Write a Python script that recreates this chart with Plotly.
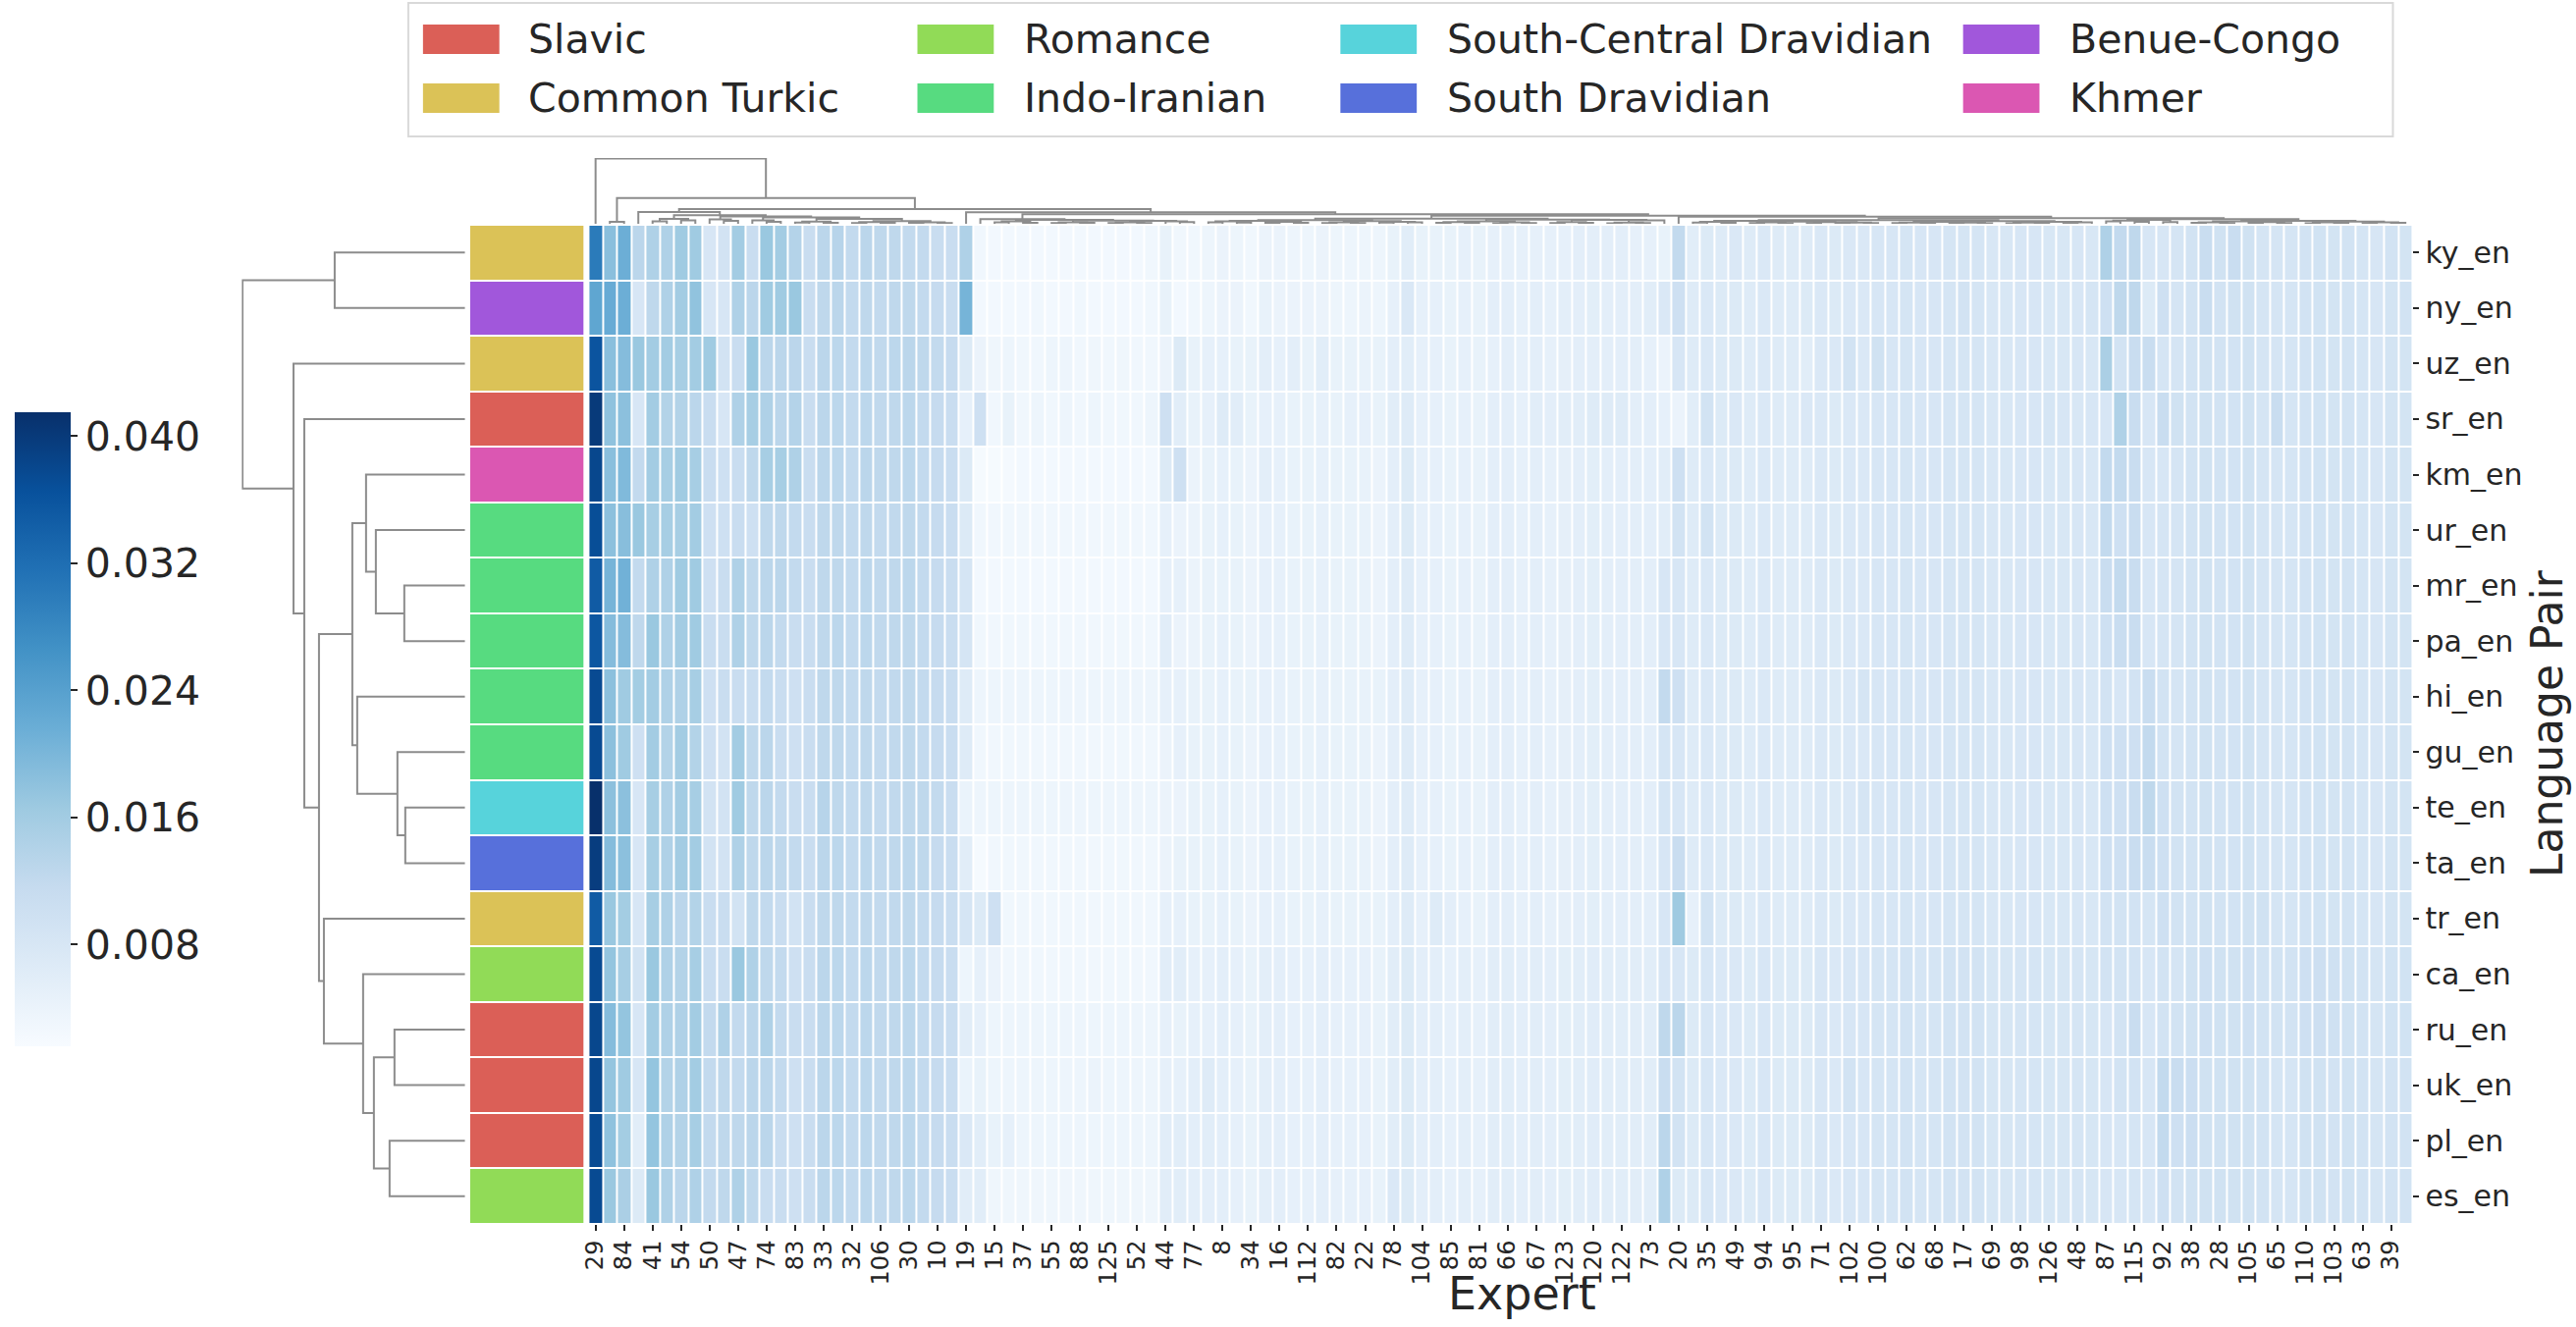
import plotly.graph_objects as go

# rows of the clustermap, top to bottom
row_labels = ["ky_en", "ny_en", "uz_en", "sr_en", "km_en", "ur_en", "mr_en", "pa_en", "hi_en",
              "gu_en", "te_en", "ta_en", "tr_en", "ca_en", "ru_en", "uk_en", "pl_en", "es_en"]
row_family = ["Common Turkic", "Benue-Congo", "Common Turkic", "Slavic", "Khmer", "Indo-Iranian",
              "Indo-Iranian", "Indo-Iranian", "Indo-Iranian", "Indo-Iranian", "South-Central Dravidian",
              "South Dravidian", "Common Turkic", "Romance", "Slavic", "Slavic", "Slavic", "Romance"]

families = ["Slavic", "Common Turkic", "Romance", "Indo-Iranian",
            "South-Central Dravidian", "South Dravidian", "Benue-Congo", "Khmer"]
family_colors = ["#db5f57", "#dbc257", "#91db57", "#57db80", "#57d3db", "#5770db", "#a157db", "#db57b2"]

# expert ids printed under every second column (128 columns in total)
expert_ticks = [29, 84, 41, 54, 50, 47, 74, 83, 33, 32, 106, 30, 10, 19, 15, 37, 55, 88, 125, 52, 44, 77,
                8, 34, 16, 112, 82, 22, 78, 104, 85, 81, 66, 67, 123, 120, 122, 73, 20, 35, 49, 94, 95,
                71, 102, 100, 62, 68, 17, 69, 98, 126, 48, 87, 115, 92, 38, 28, 105, 65, 110, 103, 63, 39]

# expert usage per language pair (columns in clustered order)
ky_en = [0.030, 0.0185, 0.0215, 0.013, 0.0145, 0.0145, 0.0163, 0.0163, 0.008, 0.009, 0.016, 0.011, 0.017, 0.016, 0.0138,
         0.011, 0.013, 0.0135, 0.012, 0.013, 0.0125, 0.0125, 0.012, 0.012, 0.011, 0.011, 0.0145,
         0.003, 0.0025, 0.0025, 0.0025, 0.0025, 0.0025, 0.0025, 0.0025, 0.0025, 0.0025, 0.0025, 0.0025, 0.003, 0.0045, 0.003, 0.003,
         0.0035, 0.004, 0.0035, 0.003, 0.004, 0.004, 0.0035, 0.0035, 0.004, 0.0035, 0.0035, 0.0035, 0.0035, 0.0045, 0.006, 0.0045,
         0.0045, 0.0045, 0.005, 0.0045, 0.005, 0.005, 0.005, 0.005, 0.005, 0.005, 0.0055, 0.0055, 0.0055, 0.0055, 0.005, 0.005,
         0.0045, 0.012, 0.006, 0.007, 0.0065, 0.0075, 0.0065, 0.0075, 0.0065, 0.0065, 0.0065, 0.0075, 0.007, 0.0075, 0.0075, 0.008,
         0.008, 0.0085, 0.008, 0.008, 0.0085, 0.0085, 0.0085, 0.0078, 0.0078, 0.008, 0.008, 0.0078, 0.0078, 0.008, 0.0078, 0.0145,
         0.012, 0.0125, 0.008, 0.008, 0.0085, 0.009, 0.011, 0.0095, 0.011, 0.0095, 0.0085, 0.0085, 0.0085, 0.009, 0.0092, 0.0088, 0.009, 0.0085, 0.008, 0.009, 0.0088]
ny_en = [0.023, 0.022, 0.0215, 0.008, 0.0125, 0.0145, 0.016, 0.0178, 0.008, 0.008, 0.0145, 0.013, 0.0163, 0.0163, 0.017,
         0.011, 0.0125, 0.013, 0.012, 0.0125, 0.012, 0.0125, 0.0125, 0.012, 0.0115, 0.011, 0.0205,
         0.0025, 0.0025, 0.0025, 0.0025, 0.003, 0.0025, 0.0025, 0.003, 0.0025, 0.0025, 0.0025, 0.0025, 0.003, 0.0045, 0.0025, 0.003,
         0.0035, 0.004, 0.004, 0.003, 0.0045, 0.004, 0.004, 0.004, 0.004, 0.0035, 0.0035, 0.004, 0.0035, 0.005, 0.0075, 0.005,
         0.005, 0.0045, 0.005, 0.0045, 0.0055, 0.0055, 0.005, 0.0055, 0.005, 0.0055, 0.0055, 0.0058, 0.0055, 0.0055, 0.0055, 0.006,
         0.0075, 0.010, 0.0065, 0.0075, 0.007, 0.007, 0.0065, 0.0075, 0.0065, 0.0065, 0.007, 0.0075, 0.007, 0.0075, 0.0075, 0.008,
         0.008, 0.0085, 0.008, 0.008, 0.0085, 0.009, 0.0085, 0.0078, 0.0078, 0.008, 0.008, 0.0078, 0.0078, 0.008, 0.0085, 0.010,
         0.0125, 0.0125, 0.007, 0.010, 0.0085, 0.009, 0.011, 0.009, 0.0095, 0.0095, 0.0085, 0.0085, 0.0085, 0.009, 0.0092, 0.0088, 0.009, 0.0085, 0.008, 0.0088, 0.009]
uz_en = [0.036, 0.0185, 0.019, 0.017, 0.016, 0.016, 0.0155, 0.016, 0.0163, 0.009, 0.011, 0.017, 0.013, 0.013, 0.013,
         0.011, 0.013, 0.0128, 0.012, 0.0128, 0.0122, 0.0128, 0.013, 0.0125, 0.012, 0.0115, 0.007,
         0.004, 0.0032, 0.0035, 0.003, 0.003, 0.0035, 0.0035, 0.003, 0.0032, 0.003, 0.0032, 0.003, 0.003, 0.004, 0.007, 0.0045,
         0.005, 0.005, 0.0045, 0.0045, 0.0055, 0.005, 0.0055, 0.0045, 0.006, 0.0045, 0.0045, 0.0045, 0.0045, 0.0055, 0.006, 0.005,
         0.005, 0.0045, 0.005, 0.0045, 0.005, 0.0055, 0.005, 0.0055, 0.005, 0.0052, 0.0055, 0.0055, 0.0055, 0.0055, 0.0055, 0.005,
         0.004, 0.008, 0.0065, 0.0075, 0.007, 0.007, 0.0065, 0.0075, 0.0065, 0.0065, 0.006, 0.0075, 0.0075, 0.009, 0.0075, 0.0095,
         0.008, 0.0085, 0.008, 0.008, 0.0085, 0.0085, 0.0085, 0.0078, 0.0078, 0.008, 0.008, 0.0078, 0.0078, 0.008, 0.0078, 0.015,
         0.009, 0.011, 0.011, 0.0085, 0.0085, 0.009, 0.0095, 0.009, 0.009, 0.0095, 0.0085, 0.0085, 0.0085, 0.009, 0.0092, 0.0088, 0.009, 0.0085, 0.008, 0.0088, 0.0088]
sr_en = [0.040, 0.018, 0.0183, 0.008, 0.016, 0.014, 0.014, 0.013, 0.011, 0.008, 0.0145, 0.0155, 0.0145, 0.013, 0.0138,
         0.011, 0.013, 0.0128, 0.012, 0.0128, 0.0122, 0.0125, 0.0128, 0.012, 0.0115, 0.011, 0.005,
         0.010, 0.003, 0.0045, 0.003, 0.0035, 0.003, 0.0035, 0.003, 0.0035, 0.003, 0.003, 0.003, 0.0035, 0.010, 0.006, 0.0045,
         0.005, 0.0065, 0.006, 0.0045, 0.005, 0.005, 0.0045, 0.0045, 0.005, 0.0045, 0.005, 0.005, 0.0045, 0.006, 0.0065, 0.005,
         0.005, 0.0045, 0.005, 0.0045, 0.0055, 0.0055, 0.005, 0.006, 0.0055, 0.006, 0.006, 0.0065, 0.0065, 0.0065, 0.0055, 0.0055,
         0.005, 0.004, 0.006, 0.009, 0.007, 0.0075, 0.0065, 0.0075, 0.0065, 0.0065, 0.0075, 0.0075, 0.007, 0.0075, 0.0075, 0.008,
         0.008, 0.0085, 0.008, 0.008, 0.0085, 0.0085, 0.0085, 0.0078, 0.0078, 0.008, 0.008, 0.0085, 0.008, 0.0078, 0.008, 0.008,
         0.0145, 0.011, 0.008, 0.011, 0.0095, 0.009, 0.0095, 0.009, 0.009, 0.0095, 0.0085, 0.011, 0.0085, 0.009, 0.0092, 0.0088, 0.009, 0.0085, 0.008, 0.0088, 0.0088]
km_en = [0.038, 0.0185, 0.0195, 0.012, 0.016, 0.0155, 0.0163, 0.0155, 0.011, 0.010, 0.011, 0.0125, 0.0155, 0.0155, 0.0145,
         0.011, 0.013, 0.0128, 0.012, 0.013, 0.0125, 0.0125, 0.0128, 0.012, 0.0115, 0.011, 0.007,
         0.002, 0.002, 0.0022, 0.0025, 0.0025, 0.0025, 0.0025, 0.0025, 0.0025, 0.0025, 0.0025, 0.0025, 0.0025, 0.007, 0.010, 0.004,
         0.0045, 0.005, 0.0045, 0.004, 0.0055, 0.005, 0.0045, 0.0045, 0.005, 0.0045, 0.0045, 0.0045, 0.004, 0.0055, 0.007, 0.005,
         0.005, 0.0045, 0.005, 0.0045, 0.0055, 0.0055, 0.005, 0.0055, 0.005, 0.0052, 0.0055, 0.0058, 0.0055, 0.0055, 0.0055, 0.0055,
         0.006, 0.010, 0.0065, 0.0075, 0.007, 0.007, 0.0065, 0.0075, 0.0065, 0.0065, 0.0065, 0.0075, 0.007, 0.0075, 0.0075, 0.008,
         0.008, 0.0085, 0.008, 0.008, 0.0085, 0.0085, 0.0085, 0.0078, 0.0078, 0.008, 0.008, 0.0078, 0.0078, 0.008, 0.0078, 0.012,
         0.012, 0.011, 0.008, 0.008, 0.0085, 0.009, 0.0095, 0.009, 0.009, 0.0095, 0.0085, 0.0085, 0.0085, 0.009, 0.0092, 0.0088, 0.009, 0.0085, 0.008, 0.0088, 0.0088]
ur_en = [0.037, 0.0183, 0.0187, 0.017, 0.0155, 0.0155, 0.0155, 0.016, 0.010, 0.010, 0.011, 0.010, 0.0125, 0.0125, 0.012,
         0.011, 0.0125, 0.0125, 0.012, 0.0125, 0.012, 0.0122, 0.0125, 0.012, 0.0115, 0.011, 0.007,
         0.003, 0.003, 0.003, 0.003, 0.003, 0.003, 0.003, 0.003, 0.003, 0.003, 0.003, 0.003, 0.003, 0.005, 0.004, 0.004,
         0.0045, 0.005, 0.0045, 0.004, 0.005, 0.005, 0.0045, 0.0045, 0.005, 0.0045, 0.0045, 0.0045, 0.004, 0.0055, 0.007, 0.005,
         0.005, 0.0045, 0.005, 0.0045, 0.0055, 0.0055, 0.005, 0.0055, 0.005, 0.0052, 0.0055, 0.0058, 0.0055, 0.0055, 0.0055, 0.0055,
         0.006, 0.009, 0.0065, 0.009, 0.007, 0.007, 0.0065, 0.0075, 0.0065, 0.0065, 0.0065, 0.0075, 0.007, 0.0075, 0.0075, 0.008,
         0.008, 0.0085, 0.008, 0.008, 0.0085, 0.0085, 0.0085, 0.0078, 0.0078, 0.008, 0.008, 0.0078, 0.0078, 0.008, 0.0078, 0.012,
         0.010, 0.011, 0.008, 0.0085, 0.0085, 0.009, 0.0095, 0.009, 0.009, 0.0095, 0.0085, 0.0085, 0.0085, 0.009, 0.0092, 0.0088, 0.009, 0.0085, 0.008, 0.0088, 0.0088]
mr_en = [0.035, 0.0205, 0.021, 0.012, 0.0145, 0.0145, 0.0163, 0.0163, 0.010, 0.011, 0.0145, 0.0125, 0.013, 0.013, 0.012,
         0.011, 0.0125, 0.0125, 0.012, 0.0128, 0.0122, 0.0125, 0.0128, 0.012, 0.0115, 0.011, 0.0085,
         0.0025, 0.0025, 0.0025, 0.0025, 0.0025, 0.0025, 0.0025, 0.0025, 0.0025, 0.0025, 0.0025, 0.0025, 0.0025, 0.005, 0.005, 0.004,
         0.0045, 0.0045, 0.0045, 0.004, 0.005, 0.005, 0.0045, 0.0045, 0.005, 0.0045, 0.0045, 0.0045, 0.004, 0.0055, 0.0065, 0.005,
         0.005, 0.0045, 0.005, 0.0045, 0.0055, 0.0055, 0.005, 0.0055, 0.005, 0.0052, 0.0055, 0.0058, 0.0055, 0.0055, 0.0055, 0.0055,
         0.008, 0.008, 0.0065, 0.0075, 0.007, 0.007, 0.0065, 0.0075, 0.0065, 0.0065, 0.0065, 0.0075, 0.007, 0.0075, 0.0075, 0.008,
         0.008, 0.0085, 0.008, 0.008, 0.0085, 0.0085, 0.0085, 0.0078, 0.0078, 0.008, 0.008, 0.0078, 0.0078, 0.008, 0.0078, 0.011,
         0.012, 0.011, 0.008, 0.0085, 0.0085, 0.009, 0.0095, 0.009, 0.009, 0.0095, 0.0085, 0.0085, 0.0085, 0.009, 0.0092, 0.0088, 0.009, 0.0085, 0.008, 0.0088, 0.0088]
pa_en = [0.0355, 0.019, 0.019, 0.0125, 0.017, 0.0145, 0.016, 0.0163, 0.011, 0.011, 0.0145, 0.0125, 0.013, 0.012, 0.011,
         0.011, 0.0125, 0.0128, 0.012, 0.0128, 0.0122, 0.0125, 0.0125, 0.012, 0.0115, 0.011, 0.0085,
         0.003, 0.003, 0.003, 0.003, 0.003, 0.003, 0.003, 0.003, 0.003, 0.003, 0.003, 0.003, 0.003, 0.006, 0.004, 0.004,
         0.0045, 0.005, 0.0045, 0.004, 0.005, 0.005, 0.0045, 0.0045, 0.005, 0.0045, 0.0045, 0.0045, 0.004, 0.0055, 0.0065, 0.005,
         0.005, 0.0045, 0.005, 0.0045, 0.0055, 0.0055, 0.005, 0.0055, 0.005, 0.0052, 0.0055, 0.0058, 0.0055, 0.0055, 0.0055, 0.0055,
         0.008, 0.008, 0.0065, 0.0075, 0.007, 0.007, 0.0065, 0.0075, 0.0065, 0.0065, 0.0065, 0.0075, 0.007, 0.0075, 0.0075, 0.008,
         0.008, 0.0085, 0.008, 0.008, 0.0085, 0.0085, 0.0085, 0.0078, 0.0078, 0.008, 0.008, 0.0078, 0.0078, 0.008, 0.0078, 0.010,
         0.011, 0.011, 0.008, 0.0085, 0.0085, 0.009, 0.0095, 0.009, 0.009, 0.0095, 0.0085, 0.0085, 0.0085, 0.009, 0.0092, 0.0088, 0.009, 0.0085, 0.008, 0.0088, 0.0088]
hi_en = [0.0375, 0.0183, 0.0163, 0.0158, 0.016, 0.0145, 0.0145, 0.0155, 0.010, 0.011, 0.011, 0.011, 0.012, 0.011, 0.010,
         0.011, 0.0125, 0.0125, 0.012, 0.0125, 0.012, 0.0122, 0.0125, 0.012, 0.0115, 0.011, 0.0065,
         0.0035, 0.0035, 0.0035, 0.0035, 0.0035, 0.0035, 0.0035, 0.0035, 0.0035, 0.0035, 0.0035, 0.0035, 0.0035, 0.005, 0.005, 0.0045,
         0.0045, 0.005, 0.0045, 0.0045, 0.005, 0.005, 0.0045, 0.0045, 0.005, 0.0045, 0.0045, 0.0045, 0.0045, 0.0055, 0.0065, 0.005,
         0.005, 0.0045, 0.005, 0.0045, 0.0055, 0.0055, 0.005, 0.0055, 0.005, 0.0052, 0.0055, 0.0058, 0.0055, 0.0055, 0.0055, 0.0055,
         0.012, 0.010, 0.0065, 0.0075, 0.007, 0.007, 0.0065, 0.0075, 0.0065, 0.0065, 0.0065, 0.0075, 0.007, 0.0075, 0.0085, 0.008,
         0.008, 0.0085, 0.008, 0.008, 0.0085, 0.0085, 0.0085, 0.0078, 0.0078, 0.008, 0.008, 0.0078, 0.0078, 0.008, 0.0078, 0.009,
         0.008, 0.009, 0.011, 0.009, 0.0085, 0.009, 0.0095, 0.009, 0.009, 0.0095, 0.0085, 0.0085, 0.0085, 0.009, 0.0092, 0.0088, 0.009, 0.0085, 0.008, 0.0088, 0.0088]
gu_en = [0.0375, 0.0183, 0.0163, 0.010, 0.016, 0.014, 0.016, 0.014, 0.010, 0.009, 0.016, 0.0125, 0.013, 0.011, 0.010,
         0.011, 0.0125, 0.0125, 0.012, 0.0125, 0.012, 0.0122, 0.0125, 0.012, 0.0115, 0.011, 0.0065,
         0.003, 0.003, 0.003, 0.003, 0.003, 0.003, 0.003, 0.003, 0.003, 0.003, 0.003, 0.003, 0.003, 0.004, 0.005, 0.0045,
         0.0045, 0.005, 0.0045, 0.004, 0.005, 0.005, 0.0045, 0.0045, 0.005, 0.0045, 0.0045, 0.0045, 0.004, 0.0055, 0.0065, 0.005,
         0.005, 0.0045, 0.005, 0.0045, 0.0055, 0.0055, 0.005, 0.0055, 0.005, 0.0052, 0.0055, 0.0058, 0.0055, 0.0055, 0.0055, 0.0055,
         0.0085, 0.008, 0.0065, 0.0075, 0.007, 0.007, 0.0065, 0.0075, 0.0065, 0.0065, 0.0065, 0.0075, 0.007, 0.0075, 0.0075, 0.008,
         0.008, 0.0085, 0.008, 0.008, 0.0085, 0.0085, 0.0085, 0.0078, 0.0078, 0.008, 0.008, 0.0078, 0.0078, 0.008, 0.0078, 0.010,
         0.010, 0.010, 0.012, 0.009, 0.0085, 0.009, 0.0095, 0.009, 0.009, 0.0095, 0.0085, 0.0085, 0.0085, 0.009, 0.0092, 0.0088, 0.009, 0.0085, 0.008, 0.0088, 0.0088]
te_en = [0.0415, 0.0183, 0.0183, 0.008, 0.0155, 0.0145, 0.016, 0.0155, 0.009, 0.009, 0.0163, 0.0125, 0.013, 0.012, 0.011,
         0.011, 0.0135, 0.0125, 0.012, 0.0125, 0.012, 0.0122, 0.0125, 0.0125, 0.012, 0.011, 0.0042,
         0.0035, 0.0035, 0.0035, 0.0035, 0.0035, 0.0035, 0.0035, 0.0035, 0.0035, 0.0035, 0.0035, 0.0035, 0.0035, 0.004, 0.004, 0.0045,
         0.0045, 0.005, 0.0045, 0.004, 0.005, 0.005, 0.0045, 0.0045, 0.005, 0.0045, 0.0045, 0.0045, 0.004, 0.0055, 0.0065, 0.005,
         0.005, 0.0045, 0.005, 0.0045, 0.0055, 0.0055, 0.005, 0.0055, 0.005, 0.0052, 0.0055, 0.0058, 0.0055, 0.0055, 0.0055, 0.0055,
         0.0085, 0.008, 0.0065, 0.0075, 0.007, 0.007, 0.0065, 0.0075, 0.0065, 0.0065, 0.0065, 0.0075, 0.007, 0.0075, 0.0085, 0.008,
         0.008, 0.0085, 0.008, 0.008, 0.0085, 0.0085, 0.0085, 0.0078, 0.0078, 0.008, 0.008, 0.0078, 0.0078, 0.008, 0.0078, 0.010,
         0.010, 0.011, 0.0125, 0.010, 0.009, 0.009, 0.0095, 0.009, 0.009, 0.0095, 0.0085, 0.0085, 0.0085, 0.009, 0.0092, 0.0088, 0.009, 0.0085, 0.008, 0.0088, 0.0088]
ta_en = [0.0395, 0.019, 0.0183, 0.008, 0.0155, 0.0145, 0.016, 0.016, 0.009, 0.009, 0.0145, 0.0125, 0.013, 0.0125, 0.012,
         0.011, 0.013, 0.0128, 0.012, 0.0128, 0.0122, 0.0125, 0.0128, 0.0125, 0.0115, 0.011, 0.006,
         0.002, 0.003, 0.003, 0.003, 0.003, 0.003, 0.003, 0.003, 0.003, 0.003, 0.003, 0.003, 0.003, 0.004, 0.0045, 0.0045,
         0.0045, 0.005, 0.0045, 0.004, 0.005, 0.005, 0.0045, 0.0045, 0.005, 0.0045, 0.0045, 0.0045, 0.004, 0.0055, 0.0065, 0.005,
         0.005, 0.0045, 0.005, 0.0045, 0.0055, 0.0055, 0.005, 0.0055, 0.005, 0.0052, 0.0055, 0.0058, 0.0055, 0.0055, 0.0055, 0.0055,
         0.008, 0.011, 0.0065, 0.0075, 0.007, 0.007, 0.0065, 0.0075, 0.0065, 0.0065, 0.0065, 0.0075, 0.007, 0.0075, 0.0075, 0.008,
         0.008, 0.0085, 0.008, 0.008, 0.0085, 0.0085, 0.0085, 0.0078, 0.0078, 0.008, 0.008, 0.0078, 0.0078, 0.008, 0.0078, 0.010,
         0.010, 0.011, 0.011, 0.010, 0.009, 0.009, 0.0095, 0.009, 0.009, 0.0095, 0.0085, 0.0085, 0.0085, 0.009, 0.0092, 0.0088, 0.009, 0.0085, 0.008, 0.0088, 0.0088]
tr_en = [0.035, 0.017, 0.0158, 0.008, 0.0155, 0.0145, 0.013, 0.014, 0.011, 0.011, 0.009, 0.0125, 0.012, 0.011, 0.009,
         0.011, 0.0125, 0.0125, 0.012, 0.0125, 0.012, 0.0122, 0.0125, 0.012, 0.0115, 0.011, 0.0085,
         0.007, 0.010, 0.003, 0.003, 0.003, 0.003, 0.003, 0.003, 0.003, 0.003, 0.003, 0.003, 0.003, 0.005, 0.005, 0.0045,
         0.0045, 0.005, 0.0045, 0.004, 0.005, 0.005, 0.0045, 0.0045, 0.005, 0.0045, 0.0045, 0.0045, 0.0045, 0.0055, 0.0065, 0.005,
         0.0065, 0.0055, 0.005, 0.0045, 0.0055, 0.0055, 0.005, 0.0055, 0.005, 0.0052, 0.0055, 0.0058, 0.0055, 0.0055, 0.0055, 0.0055,
         0.008, 0.0165, 0.005, 0.009, 0.007, 0.007, 0.0065, 0.0075, 0.0065, 0.0065, 0.0065, 0.0075, 0.007, 0.0075, 0.0075, 0.008,
         0.008, 0.0085, 0.008, 0.008, 0.0085, 0.0085, 0.0085, 0.0078, 0.0078, 0.008, 0.008, 0.0078, 0.0078, 0.008, 0.0078, 0.009,
         0.009, 0.009, 0.0085, 0.010, 0.009, 0.009, 0.0095, 0.009, 0.009, 0.0095, 0.0095, 0.0085, 0.0085, 0.009, 0.0092, 0.0088, 0.009, 0.0085, 0.008, 0.0088, 0.0088]
ca_en = [0.0375, 0.0175, 0.0154, 0.009, 0.017, 0.0145, 0.014, 0.0155, 0.011, 0.011, 0.017, 0.0145, 0.0125, 0.012, 0.010,
         0.011, 0.013, 0.0128, 0.012, 0.0128, 0.0122, 0.0125, 0.0128, 0.012, 0.0115, 0.011, 0.0035,
         0.005, 0.004, 0.003, 0.003, 0.003, 0.003, 0.003, 0.003, 0.003, 0.003, 0.003, 0.003, 0.003, 0.006, 0.006, 0.005,
         0.005, 0.0055, 0.005, 0.0045, 0.0055, 0.0055, 0.005, 0.005, 0.0055, 0.005, 0.005, 0.005, 0.0045, 0.006, 0.007, 0.0055,
         0.0055, 0.005, 0.0055, 0.005, 0.006, 0.006, 0.0055, 0.006, 0.0055, 0.0057, 0.006, 0.0062, 0.006, 0.006, 0.006, 0.006,
         0.008, 0.008, 0.007, 0.008, 0.0075, 0.0075, 0.007, 0.008, 0.007, 0.007, 0.007, 0.008, 0.0075, 0.008, 0.008, 0.0085,
         0.0085, 0.009, 0.0085, 0.0085, 0.009, 0.009, 0.009, 0.0083, 0.0083, 0.0085, 0.0085, 0.0083, 0.0083, 0.0085, 0.0083, 0.009,
         0.009, 0.009, 0.008, 0.009, 0.0085, 0.0095, 0.010, 0.0095, 0.0095, 0.010, 0.009, 0.009, 0.009, 0.010, 0.0102, 0.0098, 0.0095, 0.009, 0.0085, 0.0092, 0.0092]
ru_en = [0.038, 0.019, 0.0175, 0.008, 0.016, 0.0145, 0.0145, 0.016, 0.012, 0.0145, 0.012, 0.013, 0.0145, 0.012, 0.011,
         0.011, 0.013, 0.0128, 0.012, 0.0128, 0.0122, 0.0125, 0.0128, 0.012, 0.0115, 0.011, 0.006,
         0.005, 0.0035, 0.0035, 0.0035, 0.0035, 0.0035, 0.0035, 0.0035, 0.0035, 0.0035, 0.0035, 0.0035, 0.0035, 0.005, 0.0045, 0.005,
         0.005, 0.0055, 0.005, 0.0045, 0.0055, 0.0055, 0.005, 0.005, 0.0055, 0.005, 0.005, 0.005, 0.0045, 0.006, 0.007, 0.0055,
         0.0055, 0.005, 0.0055, 0.005, 0.006, 0.006, 0.0055, 0.006, 0.0055, 0.0057, 0.006, 0.0062, 0.006, 0.006, 0.006, 0.006,
         0.0125, 0.013, 0.007, 0.008, 0.0075, 0.0075, 0.007, 0.008, 0.007, 0.007, 0.007, 0.008, 0.0075, 0.008, 0.008, 0.0085,
         0.0085, 0.009, 0.0085, 0.0085, 0.009, 0.009, 0.009, 0.0083, 0.0083, 0.0085, 0.0085, 0.0083, 0.0083, 0.0085, 0.0083, 0.008,
         0.009, 0.011, 0.008, 0.009, 0.009, 0.0095, 0.010, 0.0095, 0.0095, 0.010, 0.009, 0.009, 0.009, 0.010, 0.0102, 0.0098, 0.0095, 0.009, 0.0085, 0.0092, 0.0092]
uk_en = [0.038, 0.0175, 0.0163, 0.008, 0.0175, 0.014, 0.0145, 0.016, 0.012, 0.0125, 0.012, 0.013, 0.013, 0.012, 0.010,
         0.011, 0.013, 0.0128, 0.012, 0.0128, 0.0122, 0.0125, 0.0128, 0.012, 0.0115, 0.011, 0.0042,
         0.0045, 0.0035, 0.0035, 0.0035, 0.0035, 0.0035, 0.0035, 0.0035, 0.004, 0.0035, 0.0035, 0.0035, 0.0035, 0.005, 0.005, 0.0055,
         0.0065, 0.0055, 0.005, 0.0045, 0.0055, 0.0055, 0.005, 0.005, 0.0055, 0.005, 0.005, 0.005, 0.0045, 0.006, 0.007, 0.0055,
         0.0055, 0.005, 0.0055, 0.005, 0.006, 0.006, 0.0055, 0.006, 0.0055, 0.0057, 0.006, 0.0062, 0.006, 0.006, 0.006, 0.006,
         0.011, 0.009, 0.007, 0.008, 0.0075, 0.0075, 0.007, 0.008, 0.007, 0.007, 0.007, 0.008, 0.0075, 0.009, 0.008, 0.0085,
         0.0085, 0.009, 0.0085, 0.0085, 0.009, 0.009, 0.009, 0.0083, 0.0083, 0.0085, 0.0085, 0.0083, 0.0083, 0.0085, 0.0083, 0.008,
         0.009, 0.009, 0.008, 0.012, 0.011, 0.0105, 0.0095, 0.0095, 0.0095, 0.0095, 0.009, 0.0085, 0.0085, 0.0095, 0.0095, 0.009, 0.0095, 0.009, 0.0085, 0.009, 0.009]
pl_en = [0.0375, 0.018, 0.0158, 0.006, 0.0175, 0.0145, 0.014, 0.0155, 0.012, 0.0125, 0.0125, 0.013, 0.013, 0.011, 0.010,
         0.011, 0.013, 0.0128, 0.012, 0.0128, 0.0122, 0.0125, 0.0128, 0.012, 0.0115, 0.011, 0.0075,
         0.006, 0.0045, 0.005, 0.0035, 0.0035, 0.0035, 0.0035, 0.0035, 0.0035, 0.0035, 0.0035, 0.0035, 0.0035, 0.006, 0.006, 0.0055,
         0.006, 0.0055, 0.005, 0.0045, 0.0055, 0.0055, 0.005, 0.005, 0.0055, 0.005, 0.005, 0.005, 0.0045, 0.006, 0.007, 0.0055,
         0.0055, 0.005, 0.0055, 0.005, 0.006, 0.006, 0.0055, 0.006, 0.0055, 0.0057, 0.006, 0.0062, 0.006, 0.006, 0.006, 0.006,
         0.013, 0.009, 0.007, 0.008, 0.0075, 0.0075, 0.007, 0.008, 0.007, 0.007, 0.007, 0.008, 0.0075, 0.008, 0.008, 0.0085,
         0.0085, 0.009, 0.0085, 0.0085, 0.009, 0.009, 0.009, 0.0083, 0.0083, 0.0085, 0.0085, 0.0083, 0.0083, 0.0085, 0.0083, 0.008,
         0.008, 0.0085, 0.008, 0.012, 0.010, 0.0105, 0.0095, 0.0095, 0.0095, 0.0095, 0.009, 0.0085, 0.0085, 0.0095, 0.0095, 0.009, 0.0095, 0.009, 0.0085, 0.009, 0.009]
es_en = [0.0375, 0.017, 0.015, 0.007, 0.017, 0.0145, 0.013, 0.0145, 0.012, 0.0125, 0.0145, 0.0125, 0.011, 0.011, 0.010,
         0.011, 0.013, 0.0128, 0.012, 0.0128, 0.0122, 0.0125, 0.0128, 0.012, 0.0115, 0.011, 0.006,
         0.006, 0.0032, 0.0032, 0.0032, 0.0032, 0.0032, 0.0032, 0.0032, 0.0032, 0.0032, 0.0032, 0.0032, 0.0032, 0.006, 0.006, 0.0055,
         0.0055, 0.0055, 0.005, 0.0045, 0.0055, 0.0055, 0.005, 0.005, 0.0055, 0.005, 0.005, 0.005, 0.0045, 0.0075, 0.007, 0.0055,
         0.0055, 0.005, 0.0055, 0.005, 0.006, 0.006, 0.0055, 0.006, 0.0055, 0.0057, 0.006, 0.0062, 0.006, 0.006, 0.006, 0.006,
         0.0145, 0.007, 0.007, 0.008, 0.0075, 0.0075, 0.007, 0.008, 0.007, 0.007, 0.007, 0.008, 0.0075, 0.008, 0.008, 0.0085,
         0.0085, 0.009, 0.0085, 0.0085, 0.009, 0.009, 0.009, 0.0083, 0.0083, 0.0085, 0.0085, 0.0083, 0.0083, 0.0085, 0.0083, 0.008,
         0.008, 0.0085, 0.008, 0.010, 0.009, 0.0095, 0.0095, 0.0095, 0.0095, 0.0095, 0.009, 0.0085, 0.0085, 0.0095, 0.0095, 0.009, 0.0095, 0.009, 0.0085, 0.009, 0.009]

usage = [ky_en, ny_en, uz_en, sr_en, km_en, ur_en, mr_en, pa_en, hi_en,
         gu_en, te_en, ta_en, tr_en, ca_en, ru_en, uk_en, pl_en, es_en]
n_cols = 128
for r in usage:
    assert len(r) == n_cols

# row linkage: (node a, node b, distance), new nodes numbered from 18
row_linkage = [(6, 7, 0.186), (10, 11, 0.183), (9, 19, 0.207), (5, 18, 0.273), (4, 21, 0.303),
               (8, 20, 0.330), (22, 23, 0.345), (14, 15, 0.216), (16, 17, 0.231), (25, 26, 0.279),
               (13, 27, 0.312), (12, 28, 0.432), (24, 29, 0.447), (3, 30, 0.492), (2, 31, 0.525),
               (0, 1, 0.399), (33, 32, 0.681)]

# column tree: (left, right, height), leaves are column positions
A1a = ((4, 5, 2.5), (6, 7, 3.5), 5.0)
A1e = (((18, 19, 0.8), (20, 21, 1.1), 1.8), ((22, 23, 0.9), (24, 25, 0.7), 1.5), 2.8)
A1d = (((14, 15, 1.2), (16, 17, 1.0), 2.2), A1e, 5.0)
A1c = ((11, (12, 13, 2.0), 3.5), A1d, 6.5)
A1b = ((8, (9, 10, 3.0), 4.5), A1c, 7.5)
A = (3, (A1a, A1b, 8.7), 12.0)

B1L2 = (((28, 29, 1.5), (30, 31, 1.0), 2.5),
        (((32, 33, 0.8), (34, 35, 0.9), 1.6), (((36, 37, 0.7), (38, 39, 0.8), 1.4), (40, (41, 42, 1.8), 2.4), 2.9), 3.2),
        4.0)
B1L = (27, B1L2, 4.7)
M1a = (((43, 44, 1.5), (45, 46, 1.2), 2.6), ((47, 48, 0.9), (49, 50, 1.0), 1.9), 3.0)
M1b = (((51, 52, 0.8), (53, 54, 0.7), 1.6), ((55, 56, 1.3), (57, 58, 1.6), 2.1), 2.7)
M2a = (((59, 60, 1.1), (61, 62, 0.9), 1.8), ((63, 64, 0.6), (65, 66, 0.8), 1.5), 2.4)
M2b = (((67, 68, 0.7), (69, 70, 0.9), 1.7), (((71, 72, 0.6), (73, 74, 0.8), 1.3), 75, 3.5), 3.9)
B1Ra = ((M1a, M1b, 3.6), (M2a, M2b, 4.1), 5.2)
R1a = (((77, 78, 1.2), (79, 80, 0.9), 2.0),
       (((81, 82, 0.8), (83, 84, 0.6), 1.4), ((85, 86, 0.7), ((87, 88, 0.6), (89, 90, 0.8), 1.2), 1.8), 2.3),
       2.9)
R1b = ((((91, 92, 0.7), (93, 94, 0.6), 1.3), ((95, 96, 0.8), (97, 98, 0.5), 1.2), 2.0),
       (((99, 100, 0.6), (101, 102, 0.7), 1.3), ((103, 104, 0.9), 105, 1.5), 1.9),
       2.7)
R2a = (((106, 107, 2.4), (108, 109, 2.0), 3.2), (110, 111, 1.8), 3.9)
R2b = ((((112, 113, 0.9), (114, 115, 0.7), 1.5), ((116, 117, 1.0), (118, 119, 0.8), 1.7), 2.4),
       (((120, 121, 0.6), (122, 123, 0.9), 1.4), ((124, 125, 0.7), (126, 127, 1.1), 1.6), 2.2),
       3.1)
B1Rc = ((R1a, R1b, 3.8), (R2a, R2b, 4.6), 5.8)
B1R = (B1Ra, (76, B1Rc, 7.2), 8.3)
B = (26, (B1L, B1R, 9.7), 11.7)
col_tree = (0, ((1, 2, 2.0), (A, B, 15.0), 26.0), 66.0)

blues = ["rgb(247,251,255)", "rgb(222,235,247)", "rgb(198,219,239)", "rgb(158,202,225)", "rgb(107,174,214)",
         "rgb(66,146,198)", "rgb(33,113,181)", "rgb(8,81,156)", "rgb(8,48,107)"]
text_col = "#262626"
line_col = "#8c8c8c"
W, H = 2624, 1352


def fx(p):
    return p / W


def fy(p):
    return 1 - p / H


def walk(node, pos, hgt):
    # lays out a tree, returns (leaf position of node, height of node)
    if isinstance(node, int):
        return node, 0.0
    left, right, h = node
    pa, ha = walk(left, pos, hgt)
    pb, hb = walk(right, pos, hgt)
    pos += [pa, pa, pb, pb, None]
    hgt += [ha, h, h, hb, None]
    return (pa + pb) / 2, h


def leaves(node):
    if isinstance(node, int):
        return [node]
    return leaves(node[0]) + leaves(node[1])


assert sorted(leaves(col_tree)) == list(range(n_cols))

nodes = {i: i for i in range(len(row_labels))}
for k, (a, b, d) in enumerate(row_linkage):
    nodes[len(row_labels) + k] = (nodes[a], nodes[b], d)
row_tree = nodes[len(row_labels) + len(row_linkage) - 1]

fig = go.Figure()

# main heatmap
fig.add_trace(go.Heatmap(
    z=usage, x=list(range(n_cols)), y=list(range(len(row_labels))),
    colorscale=[[i / 8, c] for i, c in enumerate(blues)], zmin=0.0016, zmax=0.0415,
    xgap=2, ygap=2, hoverongaps=False,
    colorbar=dict(x=fx(8), xanchor="left", y=fy(743), yanchor="middle", len=646 / H, lenmode="fraction",
                  thickness=57, thicknessmode="pixels", xpad=0, ypad=0, outlinewidth=0,
                  tickvals=[0.008, 0.016, 0.024, 0.032, 0.040], tickformat=".3f",
                  ticks="outside", ticklen=7, tickwidth=2, tickcolor=text_col,
                  tickfont=dict(size=41, color=text_col)),
))

# family colour strip
fam_idx = [families.index(f) for f in row_family]
strip_scale = []
for i, c in enumerate(family_colors):
    strip_scale += [[i / len(families), c], [(i + 1) / len(families), c]]
fig.add_trace(go.Heatmap(
    z=[[v] for v in fam_idx], x=[0], y=list(range(len(row_labels))),
    colorscale=strip_scale, zmin=-0.5, zmax=len(families) - 0.5, showscale=False,
    ygap=2, text=[[f] for f in row_family], hoverinfo="text",
    xaxis="x3", yaxis="y3",
))

# top dendrogram
cx, cy = [], []
walk(col_tree, cx, cy)
fig.add_trace(go.Scatter(x=cx, y=cy, mode="lines", line=dict(color=line_col, width=2),
                         hoverinfo="skip", showlegend=False, xaxis="x2", yaxis="y2"))

# left dendrogram
ry, rx = [], []
walk(row_tree, ry, rx)
fig.add_trace(go.Scatter(x=rx, y=ry, mode="lines", line=dict(color=line_col, width=2),
                         hoverinfo="skip", showlegend=False, xaxis="x4", yaxis="y4"))

hidden = dict(showgrid=False, zeroline=False, showline=False, showticklabels=False, ticks="")
rows_range = [len(row_labels) - 0.5, -0.5]
cols_range = [-0.5, n_cols - 0.5]

fig.update_layout(
    width=W, height=H, margin=dict(l=0, r=0, t=0, b=0),
    paper_bgcolor="white", plot_bgcolor="white", showlegend=False,
    font=dict(family="DejaVu Sans", color=text_col),
    xaxis=dict(domain=[fx(594), fx(2457)], range=cols_range, showgrid=False, zeroline=False,
               tickmode="array", tickvals=list(range(0, n_cols, 2)), ticktext=[str(t) for t in expert_ticks],
               tickangle=-90, tickfont=dict(size=24, color=text_col),
               ticks="outside", ticklen=6, tickwidth=1.5, tickcolor=text_col),
    yaxis=dict(domain=[fy(1247), fy(229)], range=rows_range, side="right", showgrid=False, zeroline=False,
               tickmode="array", tickvals=list(range(len(row_labels))), ticktext=row_labels,
               tickfont=dict(size=30, color=text_col),
               ticks="outside", ticklen=6, tickwidth=1.5, tickcolor=text_col),
    xaxis2=dict(domain=[fx(594), fx(2457)], range=cols_range, anchor="y2", **hidden),
    yaxis2=dict(domain=[fy(228), fy(161)], range=[0, 66.5], anchor="x2", **hidden),
    xaxis3=dict(domain=[fx(473), fx(589)], range=[-0.5, 0.5], anchor="y3", **hidden),
    yaxis3=dict(domain=[fy(1247), fy(229)], range=rows_range, anchor="x3", **hidden),
    xaxis4=dict(domain=[fx(240), fx(468)], range=[0.683, 0], anchor="y4", **hidden),
    yaxis4=dict(domain=[fy(1247), fy(229)], range=rows_range, anchor="x4", **hidden),
)

annotations = [
    dict(text="Expert", x=fx(1548), y=fy(1318), xref="paper", yref="paper", showarrow=False,
         xanchor="center", yanchor="middle", font=dict(size=46, color=text_col)),
    dict(text="Language Pair", x=fx(2594), y=fy(737), xref="paper", yref="paper", showarrow=False,
         textangle=-90, xanchor="center", yanchor="middle", font=dict(size=44, color=text_col)),
]

# legend box drawn as in the original figure: 4 columns, 2 rows
shapes = [dict(type="rect", xref="paper", yref="paper", x0=fx(410), x1=fx(2437), y0=fy(139), y1=fy(3),
               line=dict(color="#d9d9d9", width=2), fillcolor="white", layer="below")]
patch_x = [425, 930, 1362, 1998]
label_x = [530, 1037, 1469, 2105]
row_y = [40, 100]
for i, (name, col) in enumerate(zip(families, family_colors)):
    c, r = i // 2, i % 2
    shapes.append(dict(type="rect", xref="paper", yref="paper",
                       x0=fx(patch_x[c]), x1=fx(patch_x[c] + 78), y0=fy(row_y[r] + 15), y1=fy(row_y[r] - 15),
                       line=dict(width=0), fillcolor=col))
    annotations.append(dict(text=name, x=fx(label_x[c]), y=fy(row_y[r]), xref="paper", yref="paper",
                            showarrow=False, xanchor="left", yanchor="middle",
                            font=dict(size=41, color=text_col)))

fig.update_layout(shapes=shapes, annotations=annotations)

# the page body has a default margin; drop it so the figure sits at the window's corner
fig.write_html("out.html", config={"displayModeBar": False},
               post_script="document.body.style.margin='0px';")
